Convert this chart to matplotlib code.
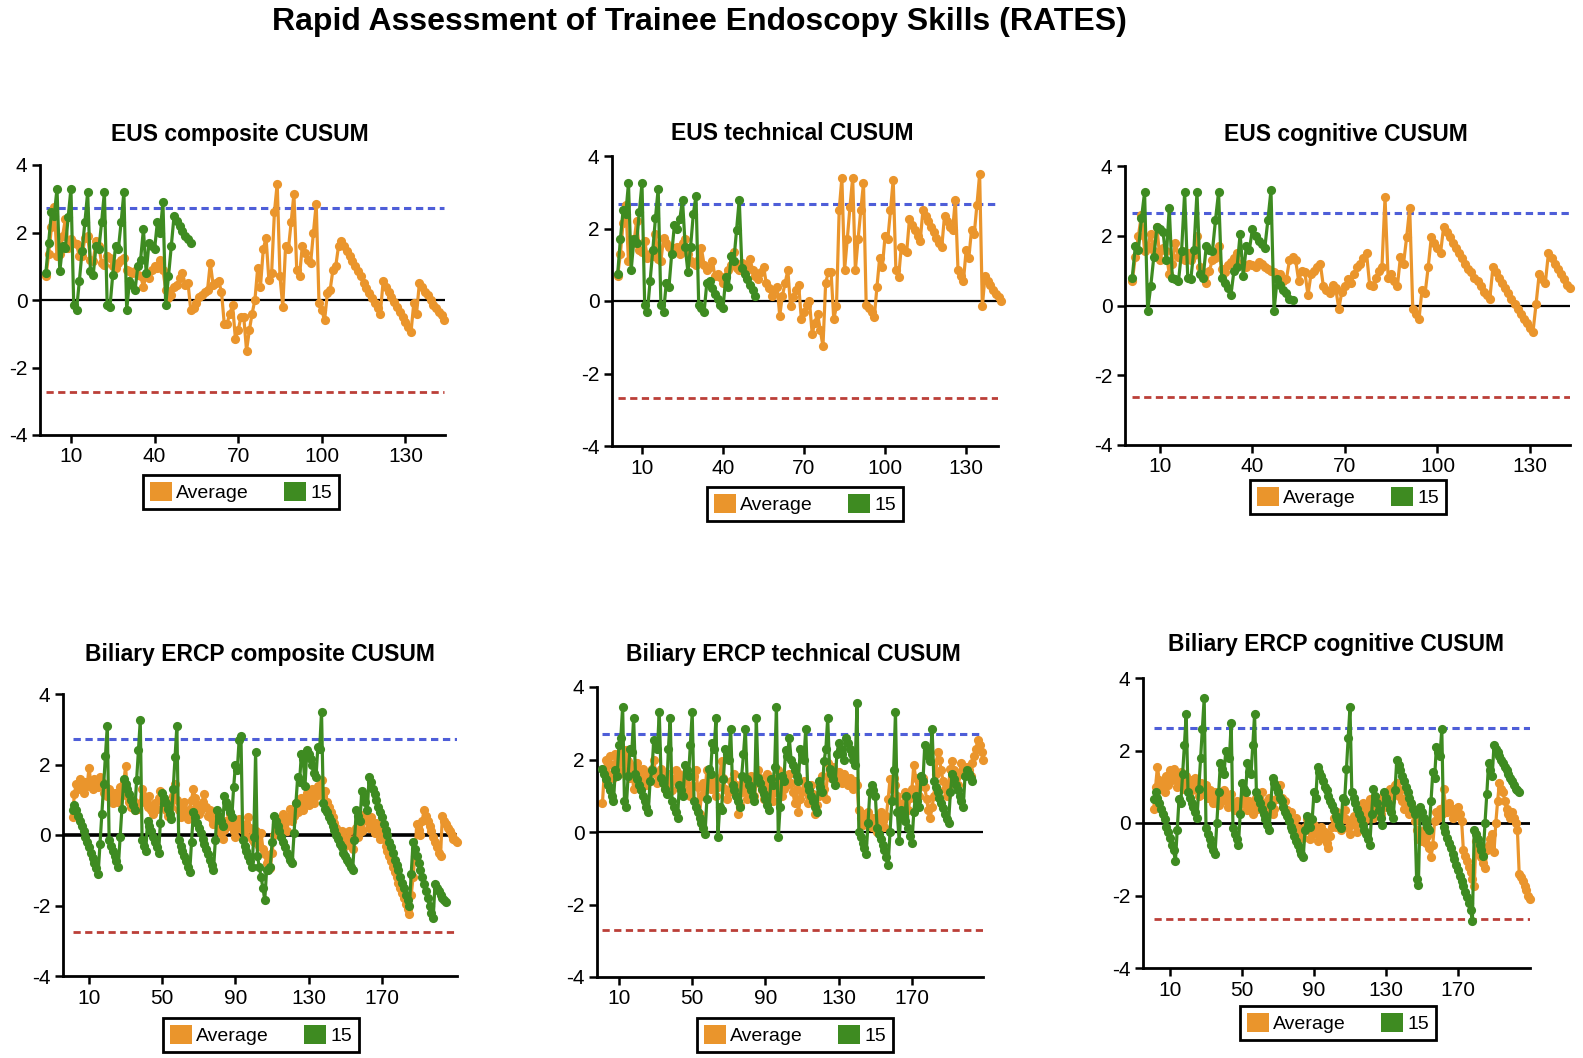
import numpy as np
import matplotlib
matplotlib.use('Agg')
import matplotlib.pyplot as plt
from matplotlib.patches import Patch
import matplotlib.font_manager as fm

W, H = 1583, 1058
plt.rcParams['font.family'] = ['Liberation Sans', 'DejaVu Sans']
plt.rcParams['axes.unicode_minus'] = False

ORANGE = '#EA952C'
GREEN = '#3E8B21'
BLUE = '#2F42D2'
RED = '#B42A22'

main_title = 'Rapid Assessment of Trainee Endoscopy Skills (RATES)'
panel_titles = ['EUS composite CUSUM', 'EUS technical CUSUM', 'EUS cognitive CUSUM',
                'Biliary ERCP composite CUSUM', 'Biliary ERCP technical CUSUM',
                'Biliary ERCP cognitive CUSUM']
legend_labels = ['Average', '15']
eus_xticks = [10, 40, 70, 100, 130]
ercp_xticks = [10, 50, 90, 130, 170]
y_ticks = [-4, -2, 0, 2, 4]
upper_limits = [2.72, 2.68, 2.66, 2.72, 2.69, 2.62]
lower_limits = [-2.73, -2.68, -2.63, -2.75, -2.69, -2.65]

# ---------------- EUS composite ----------------
eus_comp_avg = [
    0.7, 1.35, 2.15, 2.75, 1.3, 1.35, 1.9, 2.4, 1.55, 1.8,
    1.7, 1.65, 1.3, 1.3, 1.85, 1.9, 1.2, 1.15, 1.75, 1.6,
    1.1, 1.05, 1.3, 1.25, 1.0, 0.95, 1.1, 1.2, 1.25, 0.9,
    0.85, 0.8, 0.85, 0.75, 0.7, 0.4, 0.75, 0.65, 0.9, 1.0,
    0.95, 1.2, 0.9, 0.3, 0.05, 0.15, 0.4, 0.45, 0.65, 0.8,
    0.45, 0.5, -0.3, -0.25, -0.1, 0.1, 0.15, 0.25, 0.3, 1.1,
    0.45, 0.5, 0.55, 0.25, -0.7, -0.7, -0.4, -0.15, -1.15, -0.9,
    -0.5, -0.5, -1.5, -0.9, -0.4, 0.0, 0.95, 0.4, 1.5, 1.85,
    0.6, 0.8, 2.6, 3.45, 0.7, -0.2, 1.6, 1.5, 2.3, 3.15,
    0.9, 0.7, 1.6, 1.4, 1.2, 1.1, 2.0, 2.85, -0.1, -0.3,
    -0.6, 0.2, 0.3, 0.9, 1.0, 1.6, 1.75, 1.6, 1.45, 1.3,
    1.15, 1.0, 0.85, 0.7, 0.5, 0.35, 0.2, 0.05, -0.1, -0.25,
    -0.4, 0.55, 0.4, 0.25, 0.1, -0.05, -0.2, -0.35, -0.5, -0.65,
    -0.8, -0.95, -0.1, -0.4, 0.5, 0.4, 0.25, 0.15, 0.0, -0.15,
    -0.25, -0.35, -0.45, -0.6]
eus_comp_15 = [
    0.8, 1.7, 2.6, 2.5, 3.3, 0.85, 1.6, 1.55, 2.45, 3.3,
    -0.15, -0.3, 0.55, 1.45, 2.3, 3.2, 0.85, 0.75, 1.6, 1.5,
    2.3, 3.2, -0.15, -0.2, 0.75, 1.6, 1.5, 2.3, 3.2, -0.3,
    0.55, 0.45, 0.3, 1.0, 1.2, 2.1, 0.8, 1.7, 1.6, 1.5,
    2.3, 2.0, 2.9, -0.15, 0.7, 1.6, 2.5, 2.35, 2.2, 2.05,
    1.9, 1.8, 1.7]

# ---------------- EUS technical ----------------
eus_tech_avg = [
    0.7, 1.3, 2.15, 2.65, 1.1, 1.7, 1.6, 2.2, 1.4, 1.35,
    1.65, 1.2, 1.3, 1.25, 1.85, 1.15, 1.1, 1.75, 1.6, 1.5,
    1.35, 1.45, 1.5, 1.3, 1.6, 1.7, 1.3, 1.1, 1.05, 1.0,
    1.15, 1.45, 1.0, 0.85, 0.95, 1.1, 0.7, 0.75, 0.65, 0.5,
    0.7, 0.85, 1.0, 1.35, 0.9, 0.85, 1.05, 1.0, 0.95, 1.15,
    0.85, 0.7, 0.6, 0.8, 0.95, 0.5, 0.35, 0.15, 0.3, 0.4,
    -0.4, 0.15, 0.5, 0.85, -0.15, 0.1, 0.3, 0.45, -0.5, -0.3,
    -0.1, 0.0, -0.9, -0.6, -0.35, -0.8, -1.25, 0.5, 0.8, 0.8,
    -0.5, -0.15, 2.5, 3.4, 0.85, 1.7, 2.6, 3.4, 0.85, 1.7,
    2.5, 3.25, -0.1, -0.2, -0.3, -0.45, 0.4, 1.2, 0.95, 1.8,
    1.7, 2.5, 3.35, 0.85, 0.65, 1.5, 1.4, 1.35, 2.25, 2.1,
    1.95, 1.8, 1.65, 2.5, 2.35, 2.2, 2.05, 1.9, 1.75, 1.6,
    1.5, 2.35, 2.2, 2.05, 1.95, 2.8, 0.85, 0.7, 0.55, 1.4,
    1.2, 1.95, 1.85, 2.65, 3.5, -0.15, 0.7, 0.55, 0.45, 0.3,
    0.2, 0.1, 0.0]
eus_tech_15 = [
    0.75, 1.7, 2.5, 2.4, 3.25, 0.85, 1.7, 1.6, 2.45, 3.25,
    -0.1, -0.3, 0.55, 1.4, 2.3, 3.1, -0.1, -0.3, 0.5, 0.4,
    1.3, 2.1, 2.0, 2.25, 2.8, 1.5, 0.8, 1.5, 2.4, 2.9,
    -0.1, -0.2, -0.3, 0.5, 0.55, 0.35, 0.2, 0.05, -0.1, -0.2,
    0.65, 0.4, 1.25, 1.1, 1.95, 2.8, 0.9, 0.75, 0.6, 0.45,
    0.3, 0.15]

# ---------------- EUS cognitive ----------------
eus_cog_avg = [
    0.7, 1.4, 2.0, 2.6, 1.55, 1.7, 2.05, 1.55, 2.25, 1.3,
    1.65, 1.55, 0.9, 1.2, 1.8, 1.4, 1.55, 1.3, 1.5, 1.3,
    1.45, 2.0, 1.1, 0.95, 0.65, 1.0, 1.3, 1.35, 1.7, 1.05,
    0.95, 1.15, 1.25, 1.35, 1.5, 1.2, 1.15, 1.1, 1.2, 1.15,
    1.1, 1.25, 1.2, 1.1, 1.05, 1.0, 0.95, 0.9, 0.9, 0.7,
    0.75, 1.3, 1.4, 1.3, 0.7, 1.0, 0.95, 0.3, 0.9, 1.0,
    1.1, 1.2, 0.55, 0.45, 0.35, 0.6, 0.5, -0.1, 0.4, 0.55,
    0.75, 0.65, 0.9, 1.1, 1.2, 1.35, 1.5, 0.6, 0.55, 0.8,
    1.0, 1.1, 3.1, 0.8, 0.9, 0.7, 0.55, 1.4, 1.2, 1.95,
    2.8, -0.1, -0.25, -0.4, 0.45, 0.35, 1.1, 1.95, 1.8, 1.65,
    1.5, 2.25, 2.1, 1.95, 1.8, 1.65, 1.5, 1.35, 1.2, 1.05,
    0.95, 0.8, 0.7, 0.55, 0.4, 0.3, 0.2, 1.1, 0.95, 0.8,
    0.65, 0.5, 0.35, 0.2, 0.05, -0.1, -0.25, -0.4, -0.5, -0.65,
    -0.75, 0.05, 0.9, 0.75, 0.65, 1.5, 1.35, 1.2, 1.05, 0.9,
    0.75, 0.6, 0.5]
eus_cog_15 = [
    0.8, 1.7, 1.6, 2.5, 3.25, -0.15, 0.55, 1.4, 2.25, 2.2,
    2.1, 1.3, 2.8, 0.8, 0.75, 0.7, 1.55, 3.25, 0.8, 0.75,
    1.6, 3.25, 0.9, 0.8, 1.7, 1.6, 1.55, 2.45, 3.25, 0.8,
    0.65, 0.5, 0.3, 1.0, 1.1, 2.05, 0.85, 1.7, 1.6, 2.2,
    2.0, 1.85, 1.75, 1.65, 2.45, 3.3, -0.15, 0.75, 0.6, 0.45,
    0.35, 0.2, 0.15]

# ---------------- ERCP composite ----------------
ercp_comp_avg = [
    0.5, 1.15, 1.45, 1.3, 1.6, 1.35, 1.2, 1.5, 1.4, 1.9,
    1.5, 1.3, 1.6, 1.45, 1.35, 1.65, 1.5, 1.2, 1.4, 1.1,
    1.3, 1.0, 0.9, 1.2, 1.05, 0.95, 1.35, 1.2, 1.5, 1.95,
    1.1, 0.95, 0.8, 1.0, 0.7, 0.85, 0.75, 0.9, 1.3, 1.1,
    0.95, 0.8, 1.1, 0.7, 0.6, 0.9, 0.75, 1.05, 1.25, 1.0,
    0.85, 0.7, 0.55, 0.9, 0.8, 1.1, 1.45, 1.0, 0.7, 0.5,
    0.8, 0.95, 0.6, 0.45, 0.75, 1.0, 1.3, 1.05, 0.85, 0.6,
    0.7, 0.95, 1.15, 0.8, 0.55, 0.7, 0.45, 0.3, 0.6, 0.5,
    0.2, 0.05, -0.1, 0.15, 0.4, 0.25, 0.6, 0.35, 0.1, -0.05,
    0.2, 0.45, 0.3, 0.15, 0.0, 0.3, 0.5, 0.2, -0.1, -0.2,
    0.1, -0.15, -0.3, 0.05, -0.4, -0.55, -0.8, -0.6, -0.95, -0.5,
    0.0, 0.3, 0.15, 0.45, 0.2, 0.6, 0.35, 0.1, 0.5, 0.75,
    0.4, 0.55, 0.9, 0.65, 0.8, 1.05, 0.7, 0.95, 1.2, 0.85,
    1.0, 1.3, 0.9, 1.1, 1.4, 1.2, 1.55, 1.1, 1.25, 0.95,
    0.8, 0.65, 0.5, 0.35, 0.2, 0.05, -0.1, 0.1, -0.05, -0.3,
    -0.15, 0.1, -0.2, -0.4, -0.1, 0.2, -0.05, 0.25, 0.1, 0.45,
    0.6, 0.4, 0.2, 0.5, 0.3, 0.05, 0.35, 0.15, -0.1, 0.1,
    -0.1, -0.3, -0.45, -0.6, -0.75, -0.9, -1.05, -1.2, -1.35, -1.5,
    -1.65, -1.8, -1.95, -2.1, -2.25, -1.7, -1.2, -0.6, 0.3, 0.15,
    0.0, 0.4, 0.7, 0.55, 0.4, 0.25, 0.1, -0.05, -0.2, -0.35,
    -0.5, -0.6, 0.55, 0.4, 0.3, 0.2, 0.1, 0.0, -0.1, -0.15,
    -0.2]
ercp_comp_15 = [
    0.7, 0.85, 0.7, 0.55, 0.4, 0.25, 0.1, -0.05, -0.2, -0.35,
    -0.5, -0.65, -0.8, -0.95, -1.1, -0.25, 0.6, 1.45, 2.25, 3.1,
    -0.15, -0.3, -0.45, -0.6, -0.75, -0.9, -0.05, 0.75, 1.6, 1.45,
    1.3, 1.15, 1.0, 0.85, 0.7, 1.55, 2.4, 3.25, -0.15, -0.3,
    -0.45, 0.4, 0.25, 0.1, -0.05, -0.2, -0.35, -0.5, 0.35, 1.2,
    1.05, 0.9, 0.75, 0.6, 0.45, 1.3, 2.2, 3.1, -0.15, -0.3,
    -0.45, -0.6, -0.75, -0.9, -1.05, -0.2, 0.65, 0.5, 0.35, 0.2,
    0.05, -0.1, -0.25, -0.4, -0.55, -0.7, -0.85, -1.0, -0.15, 0.7,
    0.55, 0.4, 0.25, 1.1, 0.95, 0.8, 0.65, 0.5, 1.35, 2.0,
    1.85, 2.7, 2.8, -0.15, -0.3, -0.45, -0.6, -0.75, -0.9, -0.05,
    2.35, -0.6, -0.9, -1.2, -1.5, -1.85, -1.0, -1.0, -0.9, -0.2,
    0.55, 0.4, 0.25, 0.1, -0.05, -0.2, -0.35, -0.5, -0.6, -0.7,
    -0.8, 0.05, 0.9, 1.65, 1.5, 2.3, 2.15, 1.4, 2.4, 2.3,
    2.15, 2.0, 1.75, 1.65, 2.5, 2.45, 3.5, 0.9, 0.75, 0.65,
    0.5, 0.4, 0.25, 0.15, 0.0, -0.1, -0.25, -0.35, -0.5, -0.6,
    -0.7, -0.8, -0.9, -1.0, -0.15, 0.7, 0.55, 0.4, 1.25, 1.1,
    0.95, 0.7, 1.65, 1.5, 1.3, 1.15, 1.0, 0.8, 0.65, 0.5,
    0.3, 0.15, 0.0, -0.2, -0.35, -0.5, -0.7, -0.85, -1.0, -1.2,
    -1.35, -1.5, -1.7, -1.85, -2.0, -1.1, -0.2, -0.4, -0.6, -0.8,
    -1.0, -1.2, -1.4, -1.6, -1.8, -2.0, -2.2, -2.35, -1.4, -1.5,
    -1.6, -1.7, -1.8, -1.85, -1.9]

# ---------------- ERCP technical ----------------
ercp_tech_avg = [
    0.8, 1.7, 2.0, 1.6, 2.1, 1.85, 1.5, 2.15, 1.9, 1.6,
    2.2, 1.9, 1.7, 2.25, 1.95, 1.5, 1.8, 1.2, 1.6, 1.9,
    1.7, 1.45, 1.75, 1.5, 1.3, 1.6, 1.4, 1.75, 2.0, 1.6,
    1.35, 1.55, 1.75, 1.5, 1.2, 1.45, 1.6, 1.35, 1.15, 1.45,
    1.7, 1.45, 1.6, 1.3, 1.1, 1.4, 1.7, 1.2, 1.0, 1.3,
    1.55, 1.7, 1.25, 0.5, 1.0, 1.35, 1.15, 1.7, 1.4, 1.2,
    1.5, 1.3, 1.0, 1.25, 1.5, 1.95, 1.5, 1.2, 0.9, 1.1,
    1.4, 1.2, 1.6, 1.3, 0.5, 0.75, 1.1, 1.4, 1.2, 0.9,
    1.2, 1.55, 1.3, 1.0, 1.4, 1.7, 1.5, 1.15, 0.9, 1.3,
    1.6, 1.4, 1.15, 0.85, 1.1, 1.45, 1.7, 1.3, 1.0, 1.2,
    1.5, 1.3, 1.6, 1.35, 1.1, 0.8, 1.2, 0.55, 0.9, 1.1,
    1.4, 1.2, 0.8, 1.0, 1.3, 1.05, 0.5, 0.75, 1.0, 1.3,
    1.55, 1.2, 0.9, 1.9, 1.7, 1.5, 1.8, 1.6, 1.4, 1.65,
    1.5, 1.35, 1.6, 1.4, 1.3, 1.5, 1.35, 1.2, 1.4, 1.3,
    0.6, 0.4, 0.2, 0.5, 0.3, 0.55, 0.35, 0.15, 0.4, 0.2,
    0.0, 0.35, 0.55, 0.3, 0.15, 0.45, 0.9, 1.45, 1.2, 1.5,
    1.3, 1.0, 0.8, 0.55, 0.75, 1.1, 0.85, 0.6, 0.95, 1.2,
    1.85, 1.5, 1.2, 1.0, 1.3, 1.5, 1.25, 0.9, 0.6, 0.4,
    0.7, 1.0, 1.6, 2.2, 2.0, 1.7, 1.4, 1.2, 1.0, 1.3,
    1.75, 1.95, 1.7, 1.5, 1.3, 1.6, 1.9, 1.75, 1.6, 1.8,
    1.7, 1.55, 1.9, 2.1, 2.3, 2.55, 2.4, 2.2, 2.0]
ercp_tech_15 = [
    1.75, 1.6, 1.45, 1.3, 1.15, 1.0, 0.85, 1.7, 1.55, 2.4,
    2.6, 3.45, 0.85, 0.7, 1.55, 2.3, 2.2, 3.15, 1.6, 1.45,
    1.3, 1.15, 1.0, 0.85, 0.7, 0.55, 1.4, 1.7, 2.55, 2.4,
    2.3, 3.3, 1.5, 1.35, 1.2, 1.05, 2.3, 3.15, 0.85, 0.7,
    0.55, 0.4, 1.3, 1.15, 1.0, 1.85, 1.7, 1.55, 2.4, 3.3,
    0.85, 0.7, 0.55, 0.4, 0.25, 0.1, -0.05, 0.9, 1.75, 1.6,
    2.45, 2.3, 3.15, -0.15, 0.7, 0.6, 1.45, 2.3, 2.15, 2.0,
    2.85, 1.3, 1.15, 1.0, 0.85, 0.7, 1.55, 2.15, 2.85, 1.45,
    1.3, 1.15, 1.0, 0.85, 3.15, 1.5, 1.35, 1.2, 1.05, 0.9,
    0.75, 0.6, 1.45, 1.3, 1.8, 3.45, -0.15, 0.7, 1.55, 1.4,
    2.25, 2.1, 2.6, 2.0, 1.85, 1.7, 1.55, 1.4, 2.3, 2.15,
    2.0, 2.85, 1.3, 1.15, 1.0, 0.85, 0.7, 0.55, 1.4, 1.25,
    1.1, 1.95, 2.3, 3.15, 1.75, 1.6, 1.45, 1.3, 2.15, 2.45,
    2.3, 2.15, 2.0, 2.6, 2.45, 2.3, 2.15, 2.0, 1.85, 3.55,
    0.0, -0.15, -0.3, -0.45, -0.6, 0.25, 1.1, 1.3, 1.15, 1.0,
    0.1, -0.05, -0.2, -0.35, -0.5, -0.7, -0.9, 0.0, 0.85, 1.7,
    3.3, 0.55, -0.25, 0.6, 0.45, 0.3, 1.0, 0.1, -0.1, -0.3,
    0.55, 1.0, 0.85, 0.7, 1.55, 1.4, 2.4, 2.25, 2.1, 1.95,
    2.85, 1.4, 1.25, 1.1, 0.95, 0.8, 0.65, 0.5, 0.35, 0.25,
    1.1, 1.6, 1.45, 1.3, 1.15, 1.0, 0.85, 0.7, 1.55, 1.7,
    1.6, 1.5, 1.4]

# ---------------- ERCP cognitive ----------------
ercp_cog_avg = [
    0.4, 1.0, 1.55, 1.2, 0.95, 1.1, 0.85, 1.3, 1.05, 1.45,
    1.2, 1.5, 1.3, 1.0, 1.15, 1.4, 1.25, 0.95, 1.3, 1.1,
    0.85, 1.2, 1.0, 1.25, 0.9, 0.75, 1.1, 0.95, 0.8, 1.05,
    0.7, 0.9, 0.75, 0.55, 0.85, 0.65, 0.5, 0.8, 0.6, 0.9,
    0.7, 0.45, 0.6, 0.8, 0.55, 0.35, 0.6, 0.5, 0.3, 0.55,
    0.75, 0.5, 0.35, 0.6, 0.45, 0.25, 0.5, 0.7, 0.4, 0.6,
    0.85, 0.55, 0.3, 0.45, 0.7, 0.5, 0.25, 0.4, 0.65, 0.9,
    1.05, 0.7, 0.45, 0.6, 0.35, 0.15, 0.3, 0.05, -0.1, 0.15,
    -0.15, -0.35, -0.2, -0.4, -0.1, 0.1, -0.2, -0.45, -0.3, -0.05,
    -0.25, -0.5, -0.3, -0.1, -0.4, -0.25, -0.55, -0.7, -0.35, -0.1,
    0.15, -0.1, 0.3, 0.05, -0.2, 0.1, 0.35, 0.1, -0.15, -0.3,
    0.0, 0.2, -0.05, -0.25, 0.05, 0.3, 0.55, 0.3, 0.1, 0.4,
    0.65, 0.35, 0.15, 0.45, 0.7, 0.5, 0.25, 0.55, 0.8, 0.45,
    0.7, 0.95, 0.6, 0.85, 1.05, 1.1, 0.75, 0.9, 0.6, 0.4,
    0.7, 0.45, 0.25, 0.5, 0.3, 0.05, -0.2, -0.45, -0.3, -0.5,
    -0.2, -0.55, -0.35, -0.7, -0.95, -0.6, 0.05, 0.3, 0.15, 0.4,
    0.25, 0.95, 0.5, 0.3, 0.55, 0.35, 0.15, 0.4, 0.2, 0.45,
    0.25, 0.05, -0.75, -0.9, -1.05, -1.2, -1.35, -1.55, -1.75, -0.5,
    -0.65, -0.8, -0.95, -1.1, -1.25, -0.75, -0.6, -0.45, -0.3, -0.8,
    0.0, 0.6, 1.1, 0.95, 0.85, 0.6, 0.4, 0.25, 0.15, 0.3,
    0.15, 0.0, -0.2, -1.4, -1.5, -1.6, -1.75, -1.85, -2.0, -2.1]
ercp_cog_15 = [
    0.65, 0.85, 0.7, 0.55, 0.4, 0.25, 0.1, -0.1, -0.25, -0.4,
    -0.6, -0.75, -1.05, -0.2, 0.65, 0.55, 1.35, 2.15, 3.0, 0.85,
    0.7, 0.55, 0.45, 0.3, 0.15, 0.95, 1.8, 2.6, 3.45, -0.15,
    -0.3, -0.45, -0.6, -0.75, -0.85, 0.0, 0.85, 1.65, 1.5, 1.35,
    2.0, 1.9, 1.8, 2.75, -0.15, -0.3, -0.45, -0.6, 0.25, 1.1,
    0.95, 0.85, 1.65, 1.4, 1.35, 2.15, 3.0, 0.85, 0.7, 0.55,
    0.4, 0.25, 0.1, -0.05, -0.2, 0.5, 1.25, 1.1, 1.0, 0.85,
    0.7, 0.6, 0.45, 0.3, 0.2, 0.05, -0.1, -0.2, -0.35, -0.5,
    -0.6, -0.75, -0.85, -0.95, -0.2, 0.2, 0.05, -0.1, 0.1, 0.85,
    0.7, 1.55, 1.4, 1.3, 1.15, 1.0, 0.9, 0.75, 0.6, 0.5,
    0.35, 0.2, 0.1, -0.05, -0.15, 0.7, 0.6, 1.5, 2.35, 3.2,
    0.85, 0.7, 0.55, 0.4, 0.25, 0.1, -0.05, -0.2, -0.3, -0.45,
    -0.6, 0.25, 0.95, 0.75, 0.55, 0.35, 0.15, -0.05, 0.85, 0.7,
    0.55, 0.4, 0.3, 0.15, 0.9, 1.75, 1.6, 1.45, 1.3, 1.15,
    1.0, 0.85, 0.7, 0.55, 0.4, 0.25, -1.55, -1.7, 0.45, 0.3,
    0.15, 0.0, -0.1, -0.2, 0.6, 1.4, 1.25, 2.1, 1.95, 1.85,
    2.6, -0.1, -0.25, -0.4, -0.55, -0.7, -0.85, -1.0, -1.15, -1.3,
    -1.45, -1.6, -1.75, -1.9, -2.05, -2.2, -2.4, -2.7, -0.2, -0.3,
    -0.45, -0.6, -0.75, -0.9, 0.0, 0.8, 1.65, 1.45, 1.3, 2.15,
    2.05, 1.95, 1.85, 1.75, 1.65, 1.55, 1.45, 1.35, 1.25, 1.15,
    1.05, 0.95, 0.9, 0.85]

# ---------------- layout (pixel boxes) ----------------
panels = [
    dict(box=(40, 165, 445, 435), xlim=(-1.1, 144.2), xticks=eus_xticks,
         avg=eus_comp_avg, g15=eus_comp_15, title_xy=(240, 135), leg_xy=(241, 492), zlw=1.6),
    dict(box=(612, 156, 998, 446), xlim=(-1.1, 141.8), xticks=eus_xticks,
         avg=eus_tech_avg, g15=eus_tech_15, title_xy=(792, 134), leg_xy=(805, 504), zlw=1.6),
    dict(box=(1125, 166, 1570, 445), xlim=(-1.35, 143.0), xticks=eus_xticks,
         avg=eus_cog_avg, g15=eus_cog_15, title_xy=(1346, 135), leg_xy=(1348, 497), zlw=1.6),
    dict(box=(63, 694, 457, 976), xlim=(-4.2, 211.0), xticks=ercp_xticks,
         avg=ercp_comp_avg, g15=ercp_comp_15, title_xy=(260, 654), leg_xy=(261, 1035), zlw=2.6),
    dict(box=(597, 687, 983, 977), xlim=(-2.0, 208.8), xticks=ercp_xticks,
         avg=ercp_tech_avg, g15=ercp_tech_15, title_xy=(793, 654), leg_xy=(795, 1035), zlw=1.6),
    dict(box=(1143, 678, 1530, 968), xlim=(-5.0, 210.0), xticks=ercp_xticks,
         avg=ercp_cog_avg, g15=ercp_cog_15, title_xy=(1336, 644), leg_xy=(1338, 1023), zlw=2.0),
]

fig = plt.figure(figsize=(W / 100, H / 100), dpi=100)


def add_ax(l, t, r, b):
    return fig.add_axes([l / W, 1 - b / H, (r - l) / W, (b - t) / H])


for i, p in enumerate(panels):
    ax = add_ax(*p['box'])
    avg = np.array(p['avg'])
    g15 = np.array(p['g15'])
    xa = np.arange(1, len(avg) + 1)
    xg = np.arange(1, len(g15) + 1)
    xend = len(avg)
    ax.plot([1, xend], [upper_limits[i]] * 2, color=BLUE, lw=2.2,
            dashes=(2.4, 1.5), zorder=1, alpha=0.85)
    ax.plot([1, xend], [lower_limits[i]] * 2, color=RED, lw=2.0,
            dashes=(2.6, 1.6), zorder=1, alpha=0.9)
    ax.axhline(0, color='black', lw=p['zlw'], zorder=1.5)
    ax.plot(xa, avg, color=ORANGE, lw=2.3, marker='o', ms=6.6, mew=0,
            zorder=2, clip_on=False)
    ax.plot(xg, g15, color=GREEN, lw=2.3, marker='o', ms=6.6, mew=0,
            zorder=3, clip_on=False)
    ax.set_xlim(*p['xlim'])
    ax.set_ylim(-4, 4)
    ax.set_xticks(p['xticks'])
    ax.set_yticks(y_ticks)
    for s in ['top', 'right']:
        ax.spines[s].set_visible(False)
    for s in ['left', 'bottom']:
        ax.spines[s].set_linewidth(2.0)
    ax.tick_params(direction='out', length=6, width=1.8, labelsize=15, pad=3)
    ax.patch.set_alpha(0)

    fig.text(p['title_xy'][0] / W, 1 - p['title_xy'][1] / H, panel_titles[i],
             ha='center', va='center', fontsize=16.5, fontweight='bold')

    handles = [Patch(facecolor=ORANGE, edgecolor='none', label=legend_labels[0]),
               Patch(facecolor=GREEN, edgecolor='none', label=legend_labels[1])]
    leg = fig.legend(handles=handles, loc='center',
                     bbox_to_anchor=(p['leg_xy'][0] / W, 1 - p['leg_xy'][1] / H),
                     ncol=2, frameon=True, fancybox=False, edgecolor='black',
                     framealpha=1, fontsize=14, handlelength=1.15, handleheight=1.15,
                     handletextpad=0.2, columnspacing=1.8, borderpad=0.35,
                     borderaxespad=0)
    leg.get_frame().set_linewidth(2.0)

avail = {f.name for f in fm.fontManager.ttflist}
if 'Liberation Sans Narrow' in avail:
    tfam, tsize = ['Liberation Sans Narrow', 'DejaVu Sans'], 27
else:
    tfam, tsize = ['Liberation Sans', 'DejaVu Sans'], 23
fig.text(699 / W, 1 - 22 / H, main_title, ha='center', va='center',
         fontsize=tsize, fontweight='bold', family=tfam)

fig.savefig('out.png', dpi=100)
